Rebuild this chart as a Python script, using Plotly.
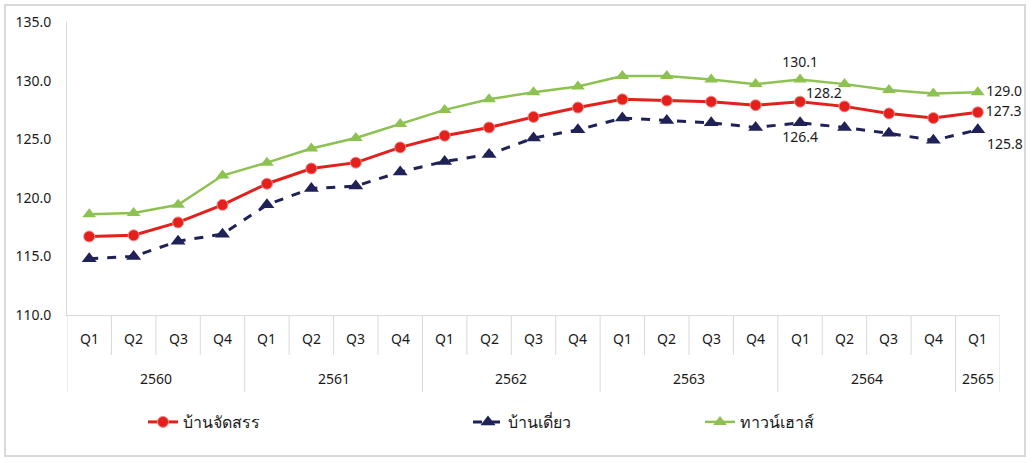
import plotly.graph_objects as go

years = ["2560"]*4 + ["2561"]*4 + ["2562"]*4 + ["2563"]*4 + ["2564"]*4 + ["2565"]
quarters = ["Q1", "Q2", "Q3", "Q4"]*5 + ["Q1"]
year_labels = ["2560", "2561", "2562", "2563", "2564", "2565"]

allocated = [116.7, 116.8, 117.9, 119.4, 121.2, 122.5, 123.0, 124.3, 125.3, 126.0, 126.9, 127.7,
             128.4, 128.3, 128.2, 127.9, 128.2, 127.8, 127.2, 126.8, 127.3]
detached = [114.8, 115.0, 116.3, 116.9, 119.4, 120.8, 121.0, 122.2, 123.1, 123.7, 125.1, 125.8,
            126.8, 126.6, 126.4, 126.0, 126.4, 126.0, 125.5, 124.9, 125.8]
townhouse = [118.6, 118.7, 119.4, 121.9, 123.0, 124.2, 125.1, 126.3, 127.5, 128.4, 129.0, 129.5,
             130.4, 130.4, 130.1, 129.7, 130.1, 129.7, 129.2, 128.9, 129.0]

names = ["บ้านจัดสรร", "บ้านเดี่ยว", "ทาวน์เฮาส์"]
labelled_idx = [16, 20]

cats = [f"{y} {q}" for y, q in zip(years, quarters)]
n = len(cats)

def texts(vals, skip=()):
    return [f"{v:.1f}" if (i in labelled_idx and i not in skip) else "" for i, v in enumerate(vals)]

font = "Noto Sans, Tahoma, DejaVu Sans, sans-serif"
lfont = "Tahoma, DejaVu Sans, Noto Sans, sans-serif"
GRID = "#D9D9D9"
TXT = "#1a1a1a"
FS = 14

fig = go.Figure()
fig.add_trace(go.Scatter(
    x=cats, y=allocated, name=names[0], mode="lines+markers+text",
    line=dict(color="#E3201B", width=3),
    marker=dict(symbol="circle", size=11, color="#E3201B", line=dict(color="#F28A8A", width=1)),
    text=texts(allocated, skip=(16,)),
    textposition="middle right",
    textfont=dict(size=FS, color=TXT, family=font),
    cliponaxis=False,
    legend="legend",
))
fig.add_trace(go.Scatter(
    x=cats, y=detached, name=names[1], mode="lines+markers+text",
    line=dict(color="#1F2157", width=3, dash="dash"),
    marker=dict(symbol="triangle-up", size=13, color="#1F2157"),
    text=texts(detached),
    textposition=["bottom center" if i == 16 else "bottom right" for i in range(n)],
    textfont=dict(size=FS, color=TXT, family=font),
    cliponaxis=False,
    legend="legend2",
))
fig.add_trace(go.Scatter(
    x=cats, y=townhouse, name=names[2], mode="lines+markers+text",
    line=dict(color="#8DC151", width=2.5),
    marker=dict(symbol="triangle-up", size=12, color="#8DC151"),
    text=texts(townhouse),
    textposition=["top center" if i == 16 else "middle right" for i in range(n)],
    textfont=dict(size=FS, color=TXT, family=font),
    cliponaxis=False,
    legend="legend3",
))

# plot area geometry (px) used for converting offsets to domain fractions
L, R, T, B = 67, 1000, 22, 315
PW, PH = R - L, B - T

def dy(px):
    return (B - px) / PH

annotations = [dict(x=cats[16], y=allocated[16], xref="x", yref="y", text=f"{allocated[16]:.1f}",
                    showarrow=False, xanchor="left", yanchor="middle", xshift=4, yshift=9,
                    font=dict(size=FS, color=TXT, family=font))]
for c, q in zip(cats, quarters):
    annotations.append(dict(x=c, xref="x", y=dy(339), yref="y domain", text=q, showarrow=False,
                            font=dict(size=FS, color=TXT, family=font), yanchor="middle"))
shapes = []
for i in range(n + 1):
    is_year = i == 0 or i == n or years[i] != years[i - 1]
    shapes.append(dict(type="line", xref="x", yref="y domain", x0=i - 0.5, x1=i - 0.5,
                       y0=0, y1=dy(392 if is_year else 355),
                       line=dict(color=GRID, width=1)))
for yl in year_labels:
    idx = [i for i, y in enumerate(years) if y == yl]
    annotations.append(dict(x=sum(idx) / len(idx), xref="x", y=dy(378), yref="y domain", text=yl,
                            showarrow=False, font=dict(size=FS, color=TXT, family=font),
                            yanchor="middle"))

shapes.append(dict(type="rect", xref="paper", yref="paper",
                   x0=(5 - L) / PW, x1=(1025 - L) / PW, y0=dy(456), y1=dy(5),
                   line=dict(color=GRID, width=2), layer="below"))

legend_common = dict(orientation="h", yanchor="middle", xanchor="left",
                     font=dict(size=16, color=TXT, family=lfont),
                     bgcolor="rgba(0,0,0,0)")

fig.update_layout(
    width=1034, height=463,
    margin=dict(l=L, r=1034 - R, t=T, b=463 - B),
    paper_bgcolor="white", plot_bgcolor="white",
    showlegend=True,
    legend=dict(x=(143 - L) / PW, y=dy(422), **legend_common),
    legend2=dict(x=(468 - L) / PW, y=dy(422), **legend_common),
    legend3=dict(x=(700 - L) / PW, y=dy(422), **legend_common),
    xaxis=dict(
        type="category", categoryorder="array", categoryarray=cats,
        range=[-0.5, n - 0.5],
        showline=True, linecolor=GRID, linewidth=1,
        showticklabels=False, ticks="", showgrid=False,
    ),
    yaxis=dict(
        range=[110, 135], dtick=5, tickformat=".1f",
        showline=True, linecolor=GRID, linewidth=1,
        showgrid=False, zeroline=False,
        tickfont=dict(size=FS, color=TXT, family=font),
        ticks="", ticklabelstandoff=12,
    ),
    annotations=annotations,
    shapes=shapes,
)

fig.write_html("out.html")
